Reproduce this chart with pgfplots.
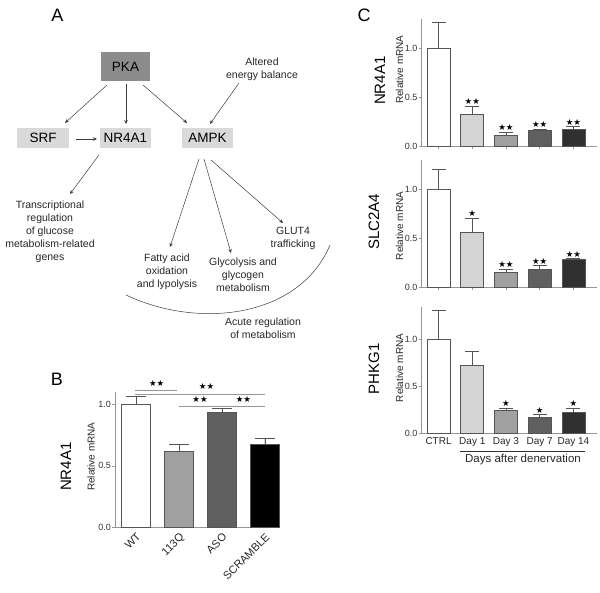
\documentclass[border=0pt]{standalone}
\usepackage{pgfplots}
\pgfplotsset{compat=1.18}
\usepackage{fontspec}
\setmainfont{Liberation Sans}
\newfontfamily\sym{DejaVu Sans}
\usetikzlibrary{arrows.meta}
\definecolor{boxlight}{RGB}{217,217,217}
\definecolor{boxdark}{RGB}{140,140,140}
\definecolor{axgray}{RGB}{150,150,150}
\definecolor{bedge}{RGB}{85,85,85}
\definecolor{arr}{RGB}{60,60,60}
\definecolor{g1}{RGB}{212,212,212}
\definecolor{g2}{RGB}{160,160,160}
\definecolor{g3}{RGB}{96,96,96}
\definecolor{g4}{RGB}{48,48,48}
\pgfplotsset{
  myaxis/.style={
    scale only axis, clip=false,
    axis x line*=bottom, axis y line*=left,
    axis line style={draw=axgray, line width=0.8pt, -},
    ymin=0, ytick={0,0.5,1},
    yticklabel={\pgfmathprintnumber[fixed,fixed zerofill,precision=1,assume math mode=true]{\tick}},
    yticklabel style={font=\fontsize{9}{10}\selectfont, text=black!80, inner sep=1pt},
    xticklabel style={font=\fontsize{10}{11}\selectfont, text=black!85},
    tick align=outside, major tick length=3pt,
    tick style={draw=axgray, line width=0.6pt},
    bar shift=0pt,
  },
  errbar/.style={error bars/.cd, y dir=plus, y explicit,
    error bar style={draw=bedge, line width=0.6pt},
    error mark options={draw=bedge, line width=0.6pt, mark size=#1, rotate=90}},
  bB/.style={ybar, bar width=29pt, draw=bedge, line width=0.6pt, fill=#1, errbar=10pt},
  bC/.style={ybar, bar width=23pt, draw=bedge, line width=0.6pt, fill=#1, errbar=7pt},
}
\tikzset{sig/.style={anchor=south, inner sep=0pt, yshift=1.2pt, font=\sym\fontsize{8.5}{8.5}\selectfont}}
\begin{document}
\begin{tikzpicture}
\useasboundingbox (0pt,0pt) rectangle (600pt,592pt);
\begin{scope}[x=1pt,y=1pt]
% panel letters
\node[font=\fontsize{18}{18}\selectfont] at (57.5,577) {A};
\node[font=\fontsize{18}{18}\selectfont] at (57,213) {B};
\node[font=\fontsize{18}{18}\selectfont] at (364,577) {C};
% boxes
\node[fill=boxdark, minimum width=49pt, minimum height=29pt, inner sep=0pt, font=\fontsize{13.5}{14}\selectfont] at (125.5,525.5) {PKA};
\node[fill=boxlight, minimum width=52pt, minimum height=20pt, inner sep=0pt, font=\fontsize{13.5}{14}\selectfont] at (43,454) {SRF};
\node[fill=boxlight, minimum width=51pt, minimum height=20pt, inner sep=0pt, font=\fontsize{13.5}{14}\selectfont] at (125.5,454) {NR4A1};
\node[fill=boxlight, minimum width=51pt, minimum height=20pt, inner sep=0pt, font=\fontsize{13.5}{14}\selectfont] at (207.5,454) {AMPK};
% texts
\begin{scope}[every node/.style={align=center, inner sep=0pt, font=\fontsize{10.5}{13}\selectfont, text=black!85}]
\node at (262,523) {Altered\\energy balance};
\node at (50,360) {Transcriptional\\regulation\\of glucose\\metabolism-related\\genes};
\node at (167,320) {Fatty acid\\oxidation\\and lypolysis};
\node at (243,317.5) {Glycolysis and\\glycogen\\metabolism};
\node at (293,354) {GLUT4\\trafficking};
\node at (263,263.5) {Acute regulation\\of metabolism};
\end{scope}
% arrows
\begin{scope}[draw=arr, line width=0.5pt, -{Stealth[length=4pt,width=3.5pt]}]
\draw (107,507) -- (65,469);
\draw (126,508) -- (126,468);
\draw (143,507) -- (187,469);
\draw (239,509) -- (210,468);
\draw (76,453) -- (97,453);
\draw (99,437) -- (70,398);
\draw (199,433) -- (170,345);
\draw (204,433) -- (231,339);
\draw (211,432) -- (283,369);
\end{scope}
\draw[draw=arr, line width=0.5pt] (126,297) .. controls (200,262) and (300,275) .. (330,347);
% panel labels
\node[rotate=90, font=\fontsize{15}{15}\selectfont] at (66,125.3) {NR4A1};
\node[rotate=90, font=\fontsize{10}{10}\selectfont, text=black!85] at (91,135.3) {Relative mRNA};
\node[rotate=90, font=\fontsize{15}{15}\selectfont] at (380,511.2) {NR4A1};
\node[rotate=90, font=\fontsize{10}{10}\selectfont, text=black!85] at (399.5,522.3) {Relative mRNA};
\node[rotate=90, font=\fontsize{15}{15}\selectfont] at (374,370.3) {SLC2A4};
\node[rotate=90, font=\fontsize{10}{10}\selectfont, text=black!85] at (399.5,366) {Relative mRNA};
\node[rotate=90, font=\fontsize{15}{15}\selectfont] at (374,223) {PHKG1};
\node[rotate=90, font=\fontsize{10}{10}\selectfont, text=black!85] at (399.5,224) {Relative mRNA};
\draw[draw=black!80, line width=0.6pt] (460,140.3) -- (585,140.3);
\node[anchor=north, inner sep=1pt, font=\fontsize{11.5}{12}\selectfont, text=black!85] at (523,138.7) {Days after denervation};
\end{scope}

% ---------- Panel B ----------
\begin{axis}[myaxis, at={(115pt,64.3pt)}, anchor=south west,
  width=165pt, height=136pt, xmin=-0.49, xmax=3.35, ymax=1.1,
  xtick={0,1,2,3}, xticklabels={WT,113Q,ASO,SCRAMBLE},
  xticklabel style={rotate=45, anchor=north east, inner sep=1pt, font=\fontsize{11}{12}\selectfont},
  x tick style={draw=none}]
\addplot[bB=white] coordinates {(0,1.0) +- (0,0.065)};
\addplot[bB=g2] coordinates {(1,0.62) +- (0,0.055)};
\addplot[bB=g3] coordinates {(2,0.935) +- (0,0.03)};
\addplot[bB=black] coordinates {(3,0.675) +- (0,0.045)};
\draw[draw=axgray, line width=0.8pt] (axis cs:-0.02,1.113) -- (axis cs:0.95,1.113);
\draw[draw=axgray, line width=0.8pt] (axis cs:-0.02,1.081) -- (axis cs:3.0,1.081);
\draw[draw=axgray, line width=0.8pt] (axis cs:1.0,0.984) -- (axis cs:3.0,0.984);
\node[sig, anchor=center] at (axis cs:0.48,1.16) {★★};
\node[sig, anchor=center] at (axis cs:1.64,1.135) {★★};
\node[sig, anchor=center] at (axis cs:1.49,1.03) {★★};
\node[sig, anchor=center] at (axis cs:2.5,1.03) {★★};
\end{axis}

% ---------- Panel C: NR4A1 ----------
\begin{axis}[myaxis, at={(421.7pt,446pt)}, anchor=south west,
  width=175pt, height=126.7pt, xmin=-0.5, xmax=4.69, ymax=1.3,
  xtick={0,1,2,3,4}, xticklabels={}]
\addplot[bC=white] coordinates {(0,1.0) +- (0,0.267)};
\addplot[bC=g1] coordinates {(1,0.33) +- (0,0.08)};
\addplot[bC=g2] coordinates {(2,0.113) +- (0,0.027)};
\addplot[bC=g3] coordinates {(3,0.161) +- (0,0.009)};
\addplot[bC=g4] coordinates {(4,0.175) +- (0,0.025)};
\node[sig] at (axis cs:1,0.41) {★★};
\node[sig] at (axis cs:2,0.14) {★★};
\node[sig] at (axis cs:3,0.17) {★★};
\node[sig] at (axis cs:4,0.20) {★★};
\end{axis}

% ---------- Panel C: SLC2A4 ----------
\begin{axis}[myaxis, at={(421.7pt,305pt)}, anchor=south west,
  width=175pt, height=127pt, xmin=-0.5, xmax=4.69, ymax=1.3,
  xtick={0,1,2,3,4}, xticklabels={}]
\addplot[bC=white] coordinates {(0,1.0) +- (0,0.2)};
\addplot[bC=g1] coordinates {(1,0.56) +- (0,0.145)};
\addplot[bC=g2] coordinates {(2,0.154) +- (0,0.026)};
\addplot[bC=g3] coordinates {(3,0.184) +- (0,0.036)};
\addplot[bC=g4] coordinates {(4,0.284) +- (0,0.006)};
\node[sig] at (axis cs:1,0.705) {★};
\node[sig] at (axis cs:2,0.18) {★★};
\node[sig] at (axis cs:3,0.22) {★★};
\node[sig] at (axis cs:4,0.29) {★★};
\end{axis}

% ---------- Panel C: PHKG1 ----------
\begin{axis}[myaxis, at={(421.7pt,158.7pt)}, anchor=south west,
  width=175pt, height=126.7pt, xmin=-0.5, xmax=4.69, ymax=1.35,
  xtick={0,1,2,3,4}, xticklabels={CTRL,Day 1,Day 3,Day 7,Day 14},
  xticklabel style={inner sep=1pt}, x tick style={draw=none}]
\addplot[bC=white] coordinates {(0,1.0) +- (0,0.31)};
\addplot[bC=g1] coordinates {(1,0.727) +- (0,0.143)};
\addplot[bC=g2] coordinates {(2,0.24) +- (0,0.026)};
\addplot[bC=g3] coordinates {(3,0.166) +- (0,0.034)};
\addplot[bC=g4] coordinates {(4,0.223) +- (0,0.043)};
\node[sig] at (axis cs:2,0.266) {★};
\node[sig] at (axis cs:3,0.20) {★};
\node[sig] at (axis cs:4,0.266) {★};
\end{axis}
\end{tikzpicture}
\end{document}
